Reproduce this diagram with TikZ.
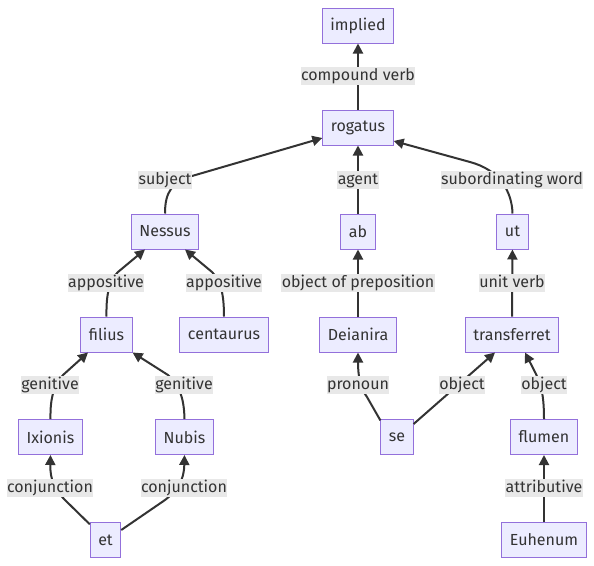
\documentclass[tikz,border=0pt]{standalone}
\usepackage{fontspec}
\setmainfont{Fira Sans}
\usetikzlibrary{arrows.meta}
\definecolor{nodefill}{HTML}{ECECFF}
\definecolor{nodeborder}{HTML}{9370DB}
\definecolor{edgecol}{HTML}{333333}
\definecolor{labelbg}{HTML}{E8E8E8}
\tikzset{
  wordbox/.style={draw=nodeborder, fill=nodefill, line width=1pt, inner xsep=8pt, inner ysep=0pt,
    minimum height=35pt, text=edgecol, font=\fontsize{16}{19}\selectfont},
  rel/.style={fill=labelbg, inner xsep=0.5pt, inner ysep=1pt, text=edgecol, text height=12pt, text depth=3.5pt,
    font=\fontsize{16}{19}\selectfont},
  link/.style={draw=edgecol, line width=2pt, -{Triangle[length=10pt,width=10pt]}},
}
\begin{document}
\begin{tikzpicture}[x=1pt,y=-1pt]
\useasboundingbox (0,0) rectangle (594,565);
% nodes
\node[wordbox] (implied) at (358,25.5) {implied};
\node[wordbox] (rogatus) at (358,127.5) {rogatus};
\node[wordbox] (nessus) at (165,231.5) {Nessus};
\node[wordbox] (ab) at (358,231.5) {ab};
\node[wordbox] (ut) at (512.5,231.5) {ut};
\node[wordbox] (filius) at (106.5,334.5) {filius};
\node[wordbox] (centaurus) at (224,334.5) {centaurus};
\node[wordbox] (deianira) at (358,334.5) {Deianira};
\node[wordbox] (transferret) at (512,334.5) {transferret};
\node[wordbox] (ixionis) at (50.5,437) {Ixionis};
\node[wordbox] (nubis) at (184.5,437) {Nubis};
\node[wordbox] (se) at (397,437) {se};
\node[wordbox] (flumen) at (544,437) {flumen};
\node[wordbox] (et) at (105.5,540) {et};
\node[wordbox] (euhenum) at (544,540) {Euhenum};
% edges
\draw[link] (rogatus) -- (implied);
\draw[link] (nessus.north) .. controls (165,192) and (172,182) .. (192,176) -- (rogatus.west |- 0,138);
\draw[link] (ab) -- (rogatus);
\draw[link] (ut.north) .. controls (512,192) and (500,170) .. (470,162) -- (rogatus.east |- 0,141);
\draw[link] (filius.north) .. controls (106,292) and (110,280) .. (118,272) -- (nessus.south west -| 145,0);
\draw[link] (centaurus.north) .. controls (224,292) and (220,280) .. (212,272) -- (nessus.south east -| 185,0);
\draw[link] (deianira) -- (ab);
\draw[link] (transferret) -- (ut);
\draw[link] (ixionis.north) .. controls (50,395) and (55,385) .. (63,375) -- (filius.south west -| 88,0);
\draw[link] (nubis.north) .. controls (184,395) and (178,385) .. (168,375) -- (filius.south east);
\draw[link] (se.135) -- (367,397) .. controls (361,389) and (358,378) .. (deianira.south);
\draw[link] (se.east |- 0,424) -- (transferret.south west -| 495,0);
\draw[link] (flumen.north) .. controls (544,395) and (541,385) .. (536,374) -- (transferret.south east -| 525,0);
\draw[link] (et.135) -- (65,500) .. controls (55,490) and (50,480) .. (ixionis.south);
\draw[link] (et.east |- 0,530) -- (165,500) .. controls (178,490) and (184,480) .. (nubis.south);
\draw[link] (euhenum) -- (flumen);
% labels
\node[rel] (l1) at (358,76) {compound verb};
\node[rel] (l2) at (165,180) {subject};
\node[rel] (l3) at (358,180) {agent};
\node[rel] (l4) at (512,180) {subordinating word};
\node[rel] (l5) at (106,283) {appositive};
\node[rel] (l6) at (224,283) {appositive};
\node[rel] (l7) at (358,283) {object of preposition};
\node[rel] (l8) at (512,283) {unit verb};
\node[rel] (l9) at (50,385) {genitive};
\node[rel] (l10) at (184,385) {genitive};
\node[rel] (l11) at (358,385) {pronoun};
\node[rel] (l12) at (462,385) {object};
\node[rel] (l13) at (544,385) {object};
\node[rel] (l14) at (50,488) {conjunction};
\node[rel] (l15) at (184,488) {conjunction};
\node[rel] (l16) at (544,488) {attributive};
\end{tikzpicture}
\end{document}
